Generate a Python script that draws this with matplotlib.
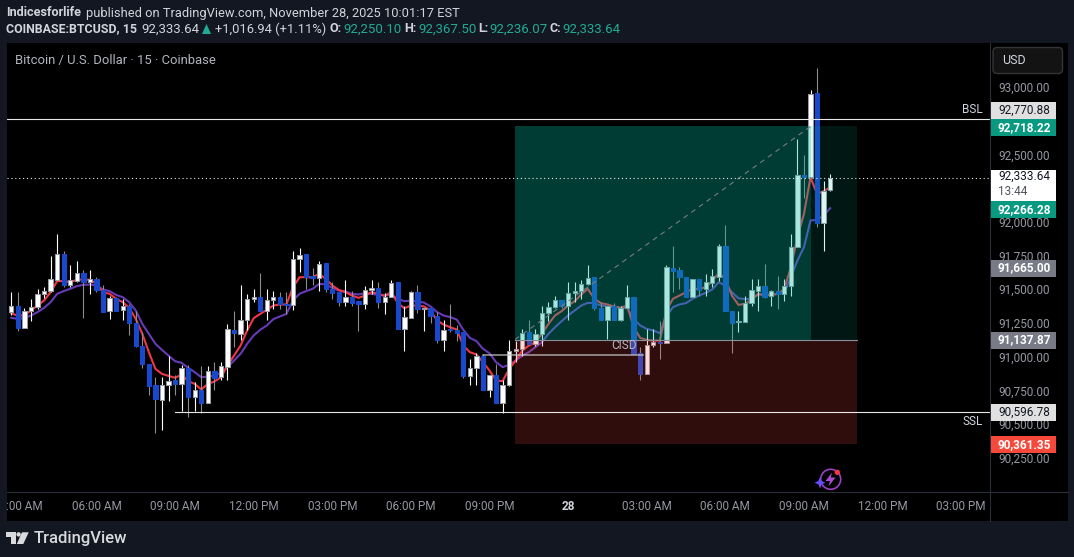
import matplotlib
matplotlib.use("Agg")
import matplotlib.pyplot as plt
from matplotlib.patches import Rectangle, FancyBboxPatch, Polygon, Circle

plt.rcParams['font.family'] = ['Roboto', 'DejaVu Sans']

opens = [91343,91390,91222,91348,91378,91477,91497,91581,91776,91541,91571,91635,91563,91588,91506,91348,91447,91356,91388,91264,91091,90957,90804,90688,90799,90834,90809,90930,90710,90767,90666,90908,90858,90933,91210,91178,91284,91437,91457,
91348,91430,91457,91403,91393,91734,91769,91610,91595,91702,91514,91487,91417,91457,91420,91403,91506,91521,91415,91454,91561,91215,91301,91492,91363,91373,91313,91133,91212,91205,91190,90868,90925,91012,90762,90878,90668,90799,91051,
91069,91190,91108,91178,91333,91378,91432,91390,91482,91499,91551,91598,91373,91281,91388,91281,91375,91457,91039,90881,91096,91123,91111,91670,91650,91605,91457,91588,91511,91556,91605,91828,91353,91266,91266,91407,91496,91538,91459,91501,91474,91533,91823,92362,92342,92963,92001,92250.10]
closes = [91388,91222,91351,91380,91477,91499,91588,91774,91541,91576,91633,91563,91588,91502,91341,91447,91353,91388,91259,91088,90955,90792,90693,90802,90831,90807,90928,90710,90764,90666,90905,90856,90943,91217,91183,91284,91437,91454,91346,
91432,91454,91398,91393,91736,91766,91605,91593,91699,91511,91482,91415,91452,91412,91400,91504,91521,91415,91454,91558,91215,91306,91492,91363,91373,91311,91133,91210,91207,91185,90866,90928,91012,90762,90876,90665,90802,91054,91069,
91187,91106,91180,91336,91378,91432,91390,91484,91499,91551,91595,91370,91281,91385,91281,91375,91454,91034,90881,91098,91123,91111,91679,91645,91598,91457,91588,91506,91566,91610,91828,91353,91264,91271,91410,91506,91536,91457,91499,91472,91536,91825,92359,92340,92960,92001,92238,92333.64]
highs = [91487,91494,91373,91435,91509,91524,91761,91922,91791,91687,91724,91650,91650,91605,91546,91464,91452,91440,91403,91353,91192,90957,90858,90858,91012,90878,90950,90950,90821,90938,90945,90970,90970,91254,91353,91546,91477,91514,91628,
91514,91501,91487,91487,91791,91818,91769,91667,91724,91702,91563,91487,91581,91501,91420,91536,91581,91568,91482,91576,91561,91383,91501,91546,91373,91373,91343,91279,91398,91249,91190,90997,91041,91032,90876,90957,90834,91138,91130,
91217,91284,91217,91390,91415,91464,91432,91568,91563,91581,91694,91598,91415,91390,91407,91390,91543,91457,91081,91217,91217,91274,91694,91828,91679,91605,91588,91588,91625,91662,91843,91991,91353,91353,91464,91588,91588,91699,91506,91612,91588,91917,92622,92510,92990,93153,92317,92367.50]
lows = [91323,91200,91222,91274,91365,91447,91489,91576,91526,91526,91563,91296,91472,91489,91341,91289,91348,91286,91168,91086,90923,90725,90443,90470,90685,90730,90604,90562,90611,90594,90666,90760,90834,90834,91086,91131,91212,91415,91346,
91286,91365,91365,91328,91360,91642,91514,91539,91496,91494,91440,91383,91383,91383,91200,91368,91474,91375,91326,91452,91215,91056,91296,91333,91200,91259,91111,91051,91192,91126,90851,90799,90804,90762,90715,90665,90596,90792,90970,
91019,91098,91093,91093,91274,91373,91373,91279,91415,91440,91539,91358,91281,91143,91281,91274,91373,91034,90836,90881,91081,90997,91111,91489,91514,91452,91452,91464,91464,91526,91570,91353,91041,91190,91266,91383,91353,91447,91383,91363,91420,91464,91823,92184,92342,91971,91798,92236.07]
ema_fast = [91333,91314,91318,91353,91390,91427,91489,91571,91571,91563,91581,91583,91581,91551,91489,91477,91440,91415,91373,91291,91180,91044,90920,90883,90868,90854,90878,90829,90809,90767,90809,90826,90858,90945,91019,91093,91205,91296,91328,
91358,91390,91398,91398,91526,91600,91600,91600,91625,91588,91539,91506,91489,91464,91447,91464,91489,91477,91462,91489,91408,91370,91390,91390,91383,91353,91279,91249,91229,91212,91093,91044,91027,90970,90908,90834,90829,90920,90982,
91056,91093,91118,91180,91254,91316,91348,91390,91422,91472,91514,91440,91408,91398,91383,91373,91390,91229,91150,91135,91130,91130,91353,91440,91464,91489,91514,
91514,91526,91570,91632,91588,91464,91395,91402,91432,91476,91469,91469,91476,91514,91674,91897,92070,92342,92218,92238,92268]
ema_slow = [91299,91291,91296,91316,91341,91373,91415,91477,91497,91514,91534,91544,91546,91539,91509,91497,91469,91452,91415,91353,91254,91180,91106,91061,91019,90977,90965,90928,90896,90858,90863,90871,90888,90933,90982,91032,91106,91168,91210,
91242,91289,91309,91328,91427,91477,91497,91514,91551,91546,91521,91501,91494,91477,91472,91482,91477,91469,91464,91472,91440,91422,91427,91420,91412,91383,91341,91316,91304,91286,91210,91150,91126,91069,91036,90970,90933,90950,90982,
91019,91044,91081,91118,91180,91229,91274,91316,91353,91390,91410,91408,91390,91383,91378,91373,91373,91291,91242,91217,91205,91185,91309,91378,91398,91408,91440,
91464,91484,91509,91563,91538,91489,91444,91437,91439,91472,91469,91472,91476,91484,91600,91724,91823,92021,92026,92058,92112]

time_ticks = [1,13,25,37,49,61,73,85,97,109,121,133,145]
time_labels = [":00 AM","06:00 AM","09:00 AM","12:00 PM","03:00 PM","06:00 PM","09:00 PM","28","03:00 AM","06:00 AM","09:00 AM","12:00 PM","03:00 PM"]
price_ticks = [93000,92500,92000,91750,91500,91250,91000,90750,90500,90250]

bsl_level = 92770.88
ssl_level = 90596.78
entry_level = 91137.87
target_level = 92718.22
stop_level = 90361.35
last_price = 92333.64
cisd_level = 91020

W, H = 1074, 557
BG = '#131722'
fig = plt.figure(figsize=(W/100, H/100), dpi=100, facecolor=BG)

def rect(x0, y0, x1, y1):
    return [x0/W, 1-y1/H, (x1-x0)/W, (y1-y0)/H]

YLIM = (90006.8, 93337.5)

ax = fig.add_axes(rect(7, 43, 990, 492), facecolor='black')
ax.set_xlim(-0.656, 149.4)
ax.set_ylim(*YLIM)
for s in ax.spines.values():
    s.set_visible(False)
ax.set_xticks([]); ax.set_yticks([])

UP_BODY, UP_EDGE, DN_BODY, UP_W, DN_W = '#ffffff', '#9a9ea6', '#1848cc', '#ffffff', '#8c8c8c'
xs = list(range(len(ema_fast)))
ax.plot(xs, ema_slow, color='#673ab7', lw=1.5, zorder=1.5)
ax.plot(xs, ema_fast, color='#f23645', lw=1.5, zorder=1.6)
for i, (o, h, l, c) in enumerate(zip(opens, highs, lows, closes)):
    up = c >= o
    ax.plot([i, i], [l, h], color=UP_W if up else DN_W, lw=0.8, zorder=2, solid_capstyle='butt')
    ax.add_patch(Rectangle((i-0.33, min(o, c)), 0.66, max(abs(c-o), 6),
                 facecolor=UP_BODY if up else DN_BODY,
                 edgecolor=UP_EDGE if up else DN_BODY, lw=0.75, zorder=3))

# position tool overlay
TEAL = (0, 0.72, 0.62)
ax.add_patch(Rectangle((76.9, entry_level), 52.2, target_level-entry_level, facecolor=TEAL, alpha=0.13, lw=0, zorder=6))
ax.add_patch(Rectangle((76.9, entry_level), 45.1, target_level-entry_level, facecolor=TEAL, alpha=0.23, lw=0, zorder=6))
ax.add_patch(Rectangle((76.9, stop_level), 52.2, entry_level-stop_level, facecolor=(0.98, 0.28, 0.28), alpha=0.19, lw=0, zorder=6))
ax.plot([76.9, 129.1], [entry_level, entry_level], color='#8a8f98', lw=0.8, zorder=7)
ax.plot([76.9, 122], [entry_level, target_level], color='#787b86', lw=0.8, ls=(0, (4.5, 4)), zorder=7)

# horizontal levels
ax.axhline(bsl_level, color='#e8e8e8', lw=0.8, zorder=8)
ax.plot([25, 150], [ssl_level, ssl_level], color='#e8e8e8', lw=0.8, zorder=8)
ax.plot([72, 96.5], [cisd_level, cisd_level], color='#c8c8c8', lw=1.1, alpha=0.8, zorder=8)
ax.axhline(last_price, color='#e8e8e8', lw=0.8, ls=(0, (1, 2.5)), zorder=8)

ax.text(95.4, 91094, 'CISD', color='#b8bcc4', fontsize=8.5, ha='right', va='center', zorder=9)
ax.text(148.35, bsl_level+75, 'BSL', color='#d1d4dc', fontsize=8.5, ha='right', va='center', zorder=9)
ax.text(148.35, ssl_level-65, 'SSL', color='#d1d4dc', fontsize=8.5, ha='right', va='center', zorder=9)
ax.text(0.57, 93208, 'Bitcoin / U.S. Dollar · 15 · Coinbase', color='#b2b5be', fontsize=9.4, ha='left', va='center', zorder=9)

# price axis
pa = fig.add_axes(rect(990, 43, 1068, 492), facecolor='black')
pa.set_xlim(0, 78); pa.set_ylim(*YLIM)
pa.set_xticks([]); pa.set_yticks([])
for s in pa.spines.values():
    s.set_visible(False)
for p in price_ticks:
    pa.text(8.3, p, f'{p:,.2f}', color='#9598a1', fontsize=8.45, ha='left', va='center', zorder=2)

# time axis
ta = fig.add_axes(rect(7, 492, 1068, 521), facecolor='black')
ta.set_xlim(7, 1068); ta.set_ylim(0, 1)
ta.set_xticks([]); ta.set_yticks([])
for s in ta.spines.values():
    s.set_visible(False)
for t, lab in zip(time_ticks, time_labels):
    xpx = 11.3 + 6.55*t
    if lab.startswith(':'):
        ta.text(42.5, 0.5, lab, color='#9598a1', fontsize=8.45, ha='right', va='center')
    else:
        ta.text(xpx, 0.5, lab, color='#d1d4dc' if lab == '28' else '#9598a1', fontsize=8.45, ha='center', va='center',
                fontweight='bold' if lab == '28' else 'normal')

# full-figure overlay in pixel coordinates, for chrome
ov = fig.add_axes([0, 0, 1, 1], facecolor='none')
ov.set_xlim(0, W); ov.set_ylim(H, 0); ov.axis('off')

def badge(yc, h, bg, lines, weight='normal'):
    ov.add_patch(Rectangle((990.5, yc-h/2), 65.5, h, facecolor=bg, lw=0, zorder=5))
    for (txt, yy, col) in lines:
        ov.text(998, yy, txt, color=col, fontsize=8.45, ha='left', va='center', fontweight=weight, zorder=6)

badge(110.3, 17, '#e0e0e0', [('92,770.88', 110.3, '#131722')])
badge(127.3, 17, '#089981', [('92,718.22', 127.3, '#ffffff')], 'bold')
badge(185.5, 31, '#ffffff', [('92,333.64', 176.7, '#131722'), ('13:44', 191.7, '#50535e')])
badge(209.3, 17, '#089981', [('92,266.28', 209.3, '#ffffff')], 'bold')
badge(268, 17, '#787b86', [('91,665.00', 268, '#ffffff')], 'bold')
badge(340, 17, '#787b86', [('91,137.87', 340, '#ffffff')], 'bold')
badge(412.5, 17, '#e0e0e0', [('90,596.78', 412.5, '#131722')])
badge(444.5, 17, '#f7483c', [('90,361.35', 444.5, '#ffffff')], 'bold')

ov.add_patch(FancyBboxPatch((993, 47.5), 69.5, 26, boxstyle='round,pad=0,rounding_size=4',
             facecolor='#131313', edgecolor='#333538', lw=1, zorder=4))
ov.text(1002, 61, 'USD', color='#d1d4dc', fontsize=9, ha='left', va='center', zorder=6)

# separators
ov.plot([989.5, 989.5], [43, 521], color='#2a2e39', lw=0.8)
ov.plot([7, 1068], [492, 492], color='#2a2e39', lw=0.8)

# header
def seg(x, y, s, col, w='normal', fs=9.3):
    ov.text(x, y, s, color=col, fontsize=fs, ha='left', va='center', fontweight=w)
G = '#d1d4dc'; T = '#22ab94'
seg(6, 13, 'Indicesforlife', G, 'bold', 9.1)
seg(86, 13, 'published on TradingView.com, November 28, 2025 10:01:17 EST', G)
seg(6, 29, 'COINBASE:BTCUSD, 15', G, 'bold', 8.9)
seg(141, 29, '92,333.64', G, fs=9.5)
ov.add_patch(Polygon([[202, 34], [211, 34], [206.5, 24]], closed=True, facecolor=T, lw=0))
seg(215, 29, '+1,016.94 (+1.11%)', G, fs=9.3)
seg(329, 29, 'O:', G, 'bold', 9); seg(343, 29, '92,250.10', T, fs=9.5)
seg(404, 29, 'H:', G, 'bold', 9); seg(418, 29, '92,367.50', T, fs=9.5)
seg(478, 29, 'L:', G, 'bold', 9); seg(489, 29, '92,236.07', T, fs=9.5)
seg(550, 29, 'C:', G, 'bold', 9); seg(562, 29, '92,333.64', T, fs=9.5)

# assistant icon
ov.add_patch(Circle((830.7, 479.3), 10, facecolor='none', edgecolor='#9c3fc4', lw=1.2, zorder=5))
ov.add_patch(Polygon([[832, 472.5], [825.5, 481], [830, 481], [828.5, 486.5], [835.5, 477.5], [830.8, 477.5]],
             closed=True, facecolor='#a94ad0', lw=0, zorder=6))
ov.add_patch(Polygon([[820, 477], [821.6, 481], [825.5, 482.7], [821.6, 484.4], [820, 488.5], [818.4, 484.4], [814.5, 482.7], [818.4, 481]],
             closed=True, facecolor='#6a4cff', lw=0, zorder=7))
ov.add_patch(Circle((837.3, 472.3), 2.7, facecolor='#f23645', lw=0, zorder=7))

# brand
L = '#d9dadd'
ov.add_patch(Polygon([[6, 532.3], [16, 532.3], [16, 544], [10.7, 544], [10.7, 536.7], [6, 536.7]], closed=True, facecolor=L, lw=0))
ov.add_patch(Circle((18.6, 534.4), 2.2, facecolor=L, lw=0))
ov.add_patch(Polygon([[22, 532.3], [28.7, 532.3], [23.3, 544], [16.8, 544]], closed=True, facecolor=L, lw=0))
ov.text(33.5, 538.3, 'TradingView', color=L, fontsize=12, fontweight='medium', ha='left', va='center')

fig.savefig('out.png', dpi=100, facecolor=BG)
